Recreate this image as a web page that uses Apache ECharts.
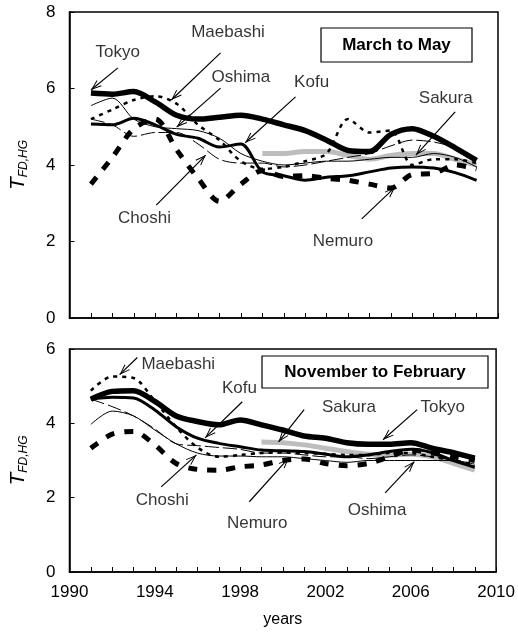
<!DOCTYPE html>
<html>
<head>
<meta charset="utf-8">
<script src="https://cdn.jsdelivr.net/npm/echarts@6/dist/echarts.min.js"></script>
<style>
html,body{margin:0;padding:0;background:#fff;}
#chart{width:518px;height:635px;}
</style>
</head>
<body>
<div id="chart"></div>
<script>
// ---------- data ----------
const years = [1991,1992,1993,1994,1995,1996,1997,1998,1999,2000,2001,2002,2003,2004,2005,2006,2007,2008,2009];

// March to May
const tokyoMAM    = [5.88,5.85,5.92,5.65,5.30,5.20,5.25,5.30,5.20,5.05,4.90,4.65,4.38,4.35,4.80,4.95,4.75,4.45,4.12];
const kofuMAM     = [5.07,5.05,5.22,5.05,4.80,4.70,4.47,4.55,3.82,3.72,3.60,3.68,3.72,3.82,3.92,3.95,3.92,3.80,3.60];
const nemuroMAM   = [3.50,4.20,4.95,5.20,4.40,3.65,3.05,3.50,3.85,3.70,3.72,3.65,3.60,3.50,3.40,3.75,3.78,4.00,3.90];
const maebashiMAM = [5.20,5.45,5.70,5.80,5.60,5.05,4.65,4.10,3.90,3.95,4.10,4.30,5.20,4.85,4.90,4.00,4.15,4.15,4.05];
const sakuraMAM   = [null,null,null,null,null,null,null,null,4.30,4.30,4.35,4.35,4.25,4.15,4.25,4.30,4.30,4.15,4.00];
const oshimaMAM   = [5.55,5.75,5.20,5.00,4.95,4.90,4.70,4.30,4.10,4.00,4.05,4.10,4.10,4.15,4.20,4.20,4.30,4.20,3.95];
const choshiMAM   = [5.20,5.05,4.75,4.85,4.85,4.55,4.15,4.05,4.05,3.95,4.00,4.10,4.20,4.30,4.50,4.65,4.60,4.45,4.15];

// November to February
const tokyoNDJF    = [4.65,4.86,4.88,4.59,4.20,4.05,3.96,4.09,3.96,3.82,3.66,3.60,3.48,3.44,3.44,3.48,3.33,3.21,3.06];
const kofuNDJF     = [4.65,4.70,4.68,4.36,3.91,3.60,3.46,3.37,3.28,3.26,3.24,3.17,3.10,3.15,3.24,3.30,3.21,3.00,2.82];
const nemuroNDJF   = [3.33,3.71,3.78,3.42,2.92,2.76,2.74,2.83,2.88,3.00,3.04,2.92,2.86,2.92,3.10,3.28,3.20,3.10,3.00];
const maebashiNDJF = [4.88,5.26,5.22,4.60,3.90,3.35,3.10,3.15,3.20,3.22,3.20,3.18,3.15,3.15,3.20,3.20,3.10,3.00,2.90];
const sakuraNDJF   = [null,null,null,null,null,null,null,null,3.50,3.48,3.42,3.33,3.24,3.17,3.15,3.17,3.10,2.92,2.74];
const oshimaNDJF   = [3.97,4.33,4.20,3.82,3.45,3.20,3.12,3.12,3.10,3.10,3.05,3.00,2.95,3.00,3.00,3.00,3.00,3.00,2.90];
const choshiNDJF   = [4.65,4.45,4.20,3.85,3.45,3.40,3.35,3.30,3.20,3.20,3.15,3.10,3.10,3.05,3.10,3.15,3.10,3.00,2.85];

const xTicks = [1990,1994,1998,2002,2006,2010];
const yTicksTop = [0,2,4,6,8];
const yTicksBottom = [0,2,4,6];

// ---------- annotations (data coordinates) ----------
const annoMAM = [
  {name:'Tokyo',    at:[1992.25,6.95], from:[1992.26,6.54], to:[1991.0,5.96]},
  {name:'Maebashi', at:[1997.4,7.48],  from:[1997.05,6.93], to:[1994.75,5.70]},
  {name:'Oshima',   at:[1998.0,6.30],  from:[1997.05,6.01], to:[1995.0,4.99]},
  {name:'Kofu',     at:[2001.3,6.17],  from:[2000.55,5.78], to:[1998.2,4.58]},
  {name:'Choshi',   at:[1993.5,2.61],  from:[1994.05,2.95], to:[1996.36,4.26]},
  {name:'Nemuro',   at:[2002.76,2.01], from:[2003.64,2.59], to:[2005.2,3.42]},
  {name:'Sakura',   at:[2007.56,5.75], from:[2008.0,5.39],  to:[2006.17,4.26]}
];
const annoNDJF = [
  {name:'Maebashi', at:[1995.1,5.58],  from:[1993.18,5.77], to:[1992.35,5.31]},
  {name:'Kofu',     at:[1997.97,4.93], from:[1998.1,4.58],  to:[1996.36,3.61]},
  {name:'Sakura',   at:[2003.1,4.42],  from:[2001.0,4.37],  to:[1999.8,3.50]},
  {name:'Tokyo',    at:[2007.5,4.42],  from:[2006.3,4.37],  to:[2004.7,3.56]},
  {name:'Choshi',   at:[1994.35,1.94], from:[1994.3,2.29],  to:[1995.95,3.15]},
  {name:'Nemuro',   at:[1998.8,1.32],  from:[1998.43,1.89], to:[2000.28,3.07]},
  {name:'Oshima',   at:[2004.42,1.67], from:[2004.8,2.13],  to:[2006.17,2.97]}
];

// ---------- chart ----------
const FONT = '"Liberation Sans", Arial, sans-serif';
const ARROW = 'path://M-12,-12L-11.99,-12L-12,-12Z M12,12L11.99,12L12,12Z M0,0L-4.2,11.5L-3.2,11.9L0,3L3.2,11.9L4.2,11.5Z';

function pairs(vals){ return years.map((y,i)=>[y, vals[i]]); }

const styles = {
  Sakura:   {color:'#bdbdbd', width:5, type:'solid'},
  Choshi:   {color:'#000', width:1, type:[14,4]},
  Oshima:   {color:'#000', width:1, type:'solid'},
  Maebashi: {color:'#000', width:2.5, type:[4,5]},
  Nemuro:   {color:'#000', width:5, type:[9,10]},
  Kofu:     {color:'#000', width:3, type:'solid'},
  Tokyo:    {color:'#000', width:5.5, type:'solid'}
};

function panelSeries(idx, d, anno){
  const order = ['Sakura','Choshi','Oshima','Maebashi','Nemuro','Kofu','Tokyo'];
  const out = order.map(n => ({
    name: n + (idx===0?' MAM':' NDJF'),
    type:'line', xAxisIndex:idx, yAxisIndex:idx,
    data: pairs(d[n]), showSymbol:false, smooth:0.3, connectNulls:false,
    lineStyle: {color:styles[n].color, width:styles[n].width, type:styles[n].type, cap:'butt'},
    silent:true, animation:false, z:2
  }));
  out.push({
    type:'scatter', xAxisIndex:idx, yAxisIndex:idx, silent:true, animation:false, z:5,
    symbolSize:1, itemStyle:{color:'rgba(0,0,0,0)'},
    data: anno.map(a=>({name:a.name, value:a.at})),
    label:{show:true, position:'inside', formatter:'{b}', color:'#000', fontSize:17, fontFamily:FONT},
    markLine:{
      silent:true, animation:false, symbol:['none', ARROW], symbolSize:22,
      label:{show:false},
      lineStyle:{color:'#000', width:1.2, type:'solid'},
      data: anno.map(a=>[{coord:a.from},{coord:a.to}])
    }
  });
  return out;
}

const axisCommon = {
  axisLine:{show:true, onZero:false, lineStyle:{color:'#000', width:1.5}},
  axisTick:{show:true, inside:true, length:5, lineStyle:{color:'#000', width:1}},
  splitLine:{show:false}
};

function xAxis(idx, showLabels){
  return Object.assign({}, axisCommon, {
    type:'value', gridIndex:idx, min:1990, max:2010, interval:1,
    axisLabel:{show:showLabels, color:'#000', fontSize:17, fontFamily:FONT, margin:12,
      showMinLabel:true, showMaxLabel:true,
      formatter: v => xTicks.indexOf(v) >= 0 ? String(v) : ''},
    name: showLabels ? 'years' : '', nameLocation:'middle', nameGap:40,
    nameTextStyle:{color:'#000', fontSize:16, fontFamily:FONT}
  });
}
function yAxis(idx, max, ticks){
  return Object.assign({}, axisCommon, {
    type:'value', gridIndex:idx, min:0, max:max, interval:2,
    axisLabel:{color:'#000', fontSize:17, fontFamily:FONT, margin:14,
      formatter: v => ticks.indexOf(v) >= 0 ? String(v) : ''},
    name:'{t|T}{s|FD,HG}', nameLocation:'middle', nameRotate:90, nameGap:40,
    nameTextStyle:{color:'#000', fontFamily:FONT,
      rich:{
        t:{fontSize:21, fontStyle:'italic', fontFamily:FONT, color:'#000'},
        s:{fontSize:12, fontStyle:'italic', fontFamily:FONT, color:'#000', verticalAlign:'bottom', padding:[10,0,0,0]}
      }}
  });
}

const chart = echarts.init(document.getElementById('chart'), null, {renderer:'canvas'});
chart.setOption({
  backgroundColor:'#fff',
  animation:false,
  grid:[
    {left:64, top:12, width:434, height:306, show:true, borderColor:'#000', borderWidth:1.5, backgroundColor:'transparent'},
    {left:64, top:349, width:434, height:223, show:true, borderColor:'#000', borderWidth:1.5, backgroundColor:'transparent'}
  ],
  xAxis:[xAxis(0,false), xAxis(1,true)],
  yAxis:[yAxis(0,8,yTicksTop), yAxis(1,6,yTicksBottom)],
  series: [].concat(
    panelSeries(0, {Tokyo:tokyoMAM, Kofu:kofuMAM, Nemuro:nemuroMAM, Maebashi:maebashiMAM, Sakura:sakuraMAM, Oshima:oshimaMAM, Choshi:choshiMAM}, annoMAM),
    panelSeries(1, {Tokyo:tokyoNDJF, Kofu:kofuNDJF, Nemuro:nemuroNDJF, Maebashi:maebashiNDJF, Sakura:sakuraNDJF, Oshima:oshimaNDJF, Choshi:choshiNDJF}, annoNDJF)
  ),
  graphic:[
    {type:'rect', shape:{x:321, y:28, width:151, height:34}, style:{fill:'#fff', stroke:'#000', lineWidth:1.2}, z:10},
    {type:'text', x:396.5, y:45, z:11, style:{text:'March to May', fontSize:17, fontWeight:'bold', fontFamily:FONT, fill:'#000', align:'center', verticalAlign:'middle'}},
    {type:'rect', shape:{x:262, y:356, width:226, height:32}, style:{fill:'#fff', stroke:'#000', lineWidth:1.2}, z:10},
    {type:'text', x:375, y:372, z:11, style:{text:'November to February', fontSize:17, fontWeight:'bold', fontFamily:FONT, fill:'#000', align:'center', verticalAlign:'middle'}}
  ]
});
</script>
</body>
</html>
